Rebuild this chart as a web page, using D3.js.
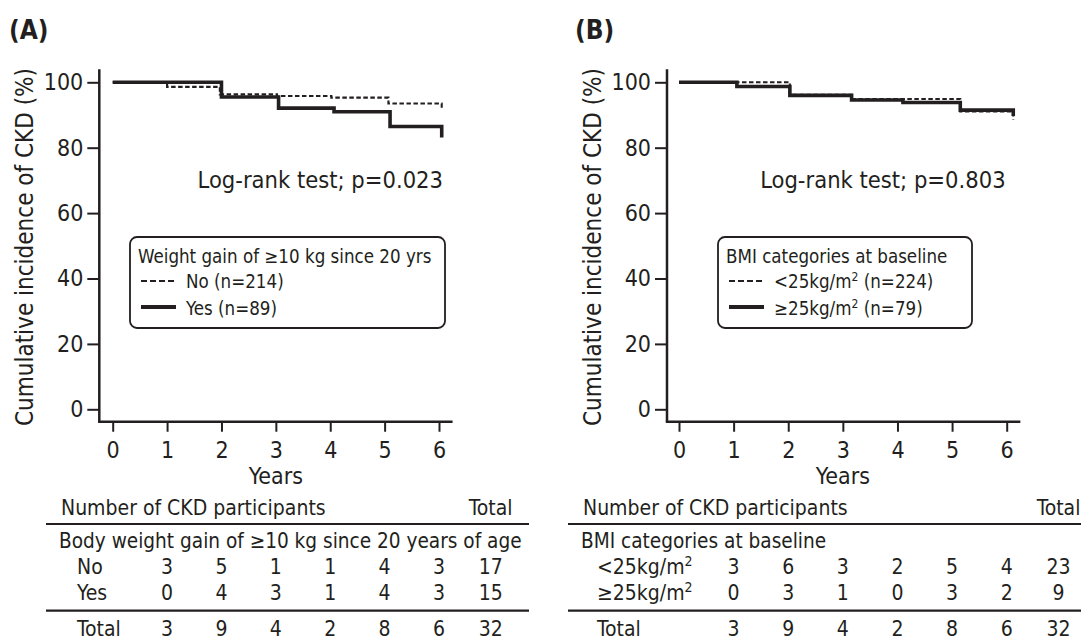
<!DOCTYPE html>
<html>
<head>
<meta charset="utf-8">
<title>Cumulative incidence of CKD</title>
<script src="https://cdn.jsdelivr.net/npm/d3@7"></script>
<style>
  body { margin: 0; background: #fff; }
  svg text { font-family: "DejaVu Sans Condensed", "DejaVu Sans", sans-serif; fill: #231f20; }
</style>
</head>
<body>
<svg id="chart" width="1081" height="641"></svg>
<script>
// ---- data ----
const years = [0, 1, 2, 3, 4, 5, 6]
const yTicks = [0, 20, 40, 60, 80, 100]

// Panel A: weight gain of >=10 kg since 20 yrs
const aNoTimes = [0, 1.0, 1.97, 3.02, 4.02, 5.07, 6.05]
const aNoValues = [100, 98.6, 96.3, 95.8, 95.3, 93.5, 92.1]
const aYesTimes = [0, 2.0, 3.05, 4.07, 5.1, 6.05]
const aYesValues = [100, 95.5, 92.1, 91.0, 86.5, 83.1]

// Panel B: BMI categories (as drawn: dashed and solid)
const bDashTimes = [0, 2.03, 3.16, 5.15, 6.12]
const bDashValues = [100, 96.2, 94.9, 91.1, 88.6]
const bSolidTimes = [0, 1.06, 2.03, 3.16, 4.1, 5.15, 6.12]
const bSolidValues = [100, 98.7, 96.0, 94.6, 93.8, 91.5, 89.7]

// Number-at-event tables
const aRows = ["No", "Yes"]
const aNoCounts = [3, 5, 1, 1, 4, 3]
const aYesCounts = [0, 4, 3, 1, 4, 3]
const aTotals = [17, 15]
const aColTotals = [3, 9, 4, 2, 8, 6]
const aGrandTotal = 32

const bLtCounts = [3, 6, 3, 2, 5, 4]
const bGeCounts = [0, 3, 1, 0, 3, 2]
const bTotals = [23, 9]
const bColTotals = [3, 9, 4, 2, 8, 6]
const bGrandTotal = 32

const svg = d3.select("#chart")
const ink = "#231f20"

const y = d3.scaleLinear().domain([0, 100]).range([409.3, 82.3])

function drawPanel(p) {
    const g = svg.append("g")
    const x = d3.scaleLinear().domain([0, 6]).range(p.xRange)

    // panel letter
    g.append("text").attr("x", p.letterX).attr("y", 39)
        .attr("font-size", 26).attr("font-weight", "bold").text(p.letter)

    // y axis
    const yAxis = g.append("g").attr("transform", `translate(${p.axisX},0)`)
        .call(d3.axisLeft(y).tickValues(yTicks).tickSize(12).tickPadding(4).tickSizeOuter(0))
    yAxis.select(".domain").remove()
    yAxis.selectAll("line").attr("stroke", ink).attr("stroke-width", 2)
    yAxis.selectAll("text").attr("font-size", 23)
    yAxis.attr("font-family", null)
    g.append("line").attr("x1", p.axisX).attr("x2", p.axisX)
        .attr("y1", y(104)).attr("y2", y(-3.8))
        .attr("stroke", ink).attr("stroke-width", 2.5)

    // x axis
    const xAxis = g.append("g").attr("transform", `translate(0,${y(-3.8)})`)
        .call(d3.axisBottom(x).tickValues(years).tickFormat(d3.format("d"))
            .tickSize(10).tickPadding(10).tickSizeOuter(0))
    xAxis.select(".domain").remove()
    xAxis.selectAll("line").attr("stroke", ink).attr("stroke-width", 2)
    xAxis.selectAll("text").attr("font-size", 23)
    xAxis.attr("font-family", null)
    g.append("line").attr("x1", p.axisX - 1.2).attr("x2", x(6.25))
        .attr("y1", y(-3.8)).attr("y2", y(-3.8))
        .attr("stroke", ink).attr("stroke-width", 2.5)

    // axis titles
    g.append("text").attr("x", x(3)).attr("y", 484)
        .attr("text-anchor", "middle").attr("font-size", 23).text("Years")
    g.append("text")
        .attr("transform", `translate(${p.yLabelX},247) rotate(-90)`)
        .attr("text-anchor", "middle").attr("font-size", 24)
        .text("Cumulative incidence of CKD (%)")

    // curves
    const line = d3.line().x(d => x(d[0])).y(d => y(d[1])).curve(d3.curveStepAfter)
    g.append("path").attr("d", line(d3.zip(p.solidT, p.solidV)))
        .attr("fill", "none").attr("stroke", ink).attr("stroke-width", 3.6)
    g.append("path").attr("d", line(d3.zip(p.dashT, p.dashV)))
        .attr("fill", "none").attr("stroke", ink).attr("stroke-width", 2.1)
        .attr("stroke-dasharray", "4.5,2.5")

    // log-rank
    g.append("text").attr("x", p.logRight).attr("y", 188)
        .attr("text-anchor", "end").attr("font-size", 23.5).text(p.logText)

    // legend
    const lg = g.append("g").attr("transform", `translate(${p.legendX},237)`)
    lg.append("rect").attr("width", p.legendW).attr("height", 91).attr("rx", 7)
        .attr("fill", "#fff").attr("stroke", ink).attr("stroke-width", 1.8)
    lg.append("text").attr("x", 8).attr("y", 26).attr("font-size", 18.6).text(p.legendTitle)
    lg.append("line").attr("x1", 11).attr("x2", 46).attr("y1", 44).attr("y2", 44)
        .attr("stroke", ink).attr("stroke-width", 2).attr("stroke-dasharray", "6,3")
    lg.append("line").attr("x1", 11).attr("x2", 46).attr("y1", 70).attr("y2", 70)
        .attr("stroke", ink).attr("stroke-width", 4)
    p.legendItems.forEach((item, i) => {
        const t = lg.append("text").attr("x", 56).attr("y", 51 + i * 27).attr("font-size", 18.6)
        item.forEach(part => {
            const ts = t.append("tspan").text(part.s)
            if (part.sup) ts.attr("font-size", 12).attr("baseline-shift", "super")
        })
    })

    // table
    const tg = g.append("g").attr("font-size", 21)
    tg.append("text").attr("x", p.tableLeft + 15).attr("y", 515).text("Number of CKD participants")
    tg.append("text").attr("x", x(6.95)).attr("y", 515).attr("text-anchor", "middle").text("Total")
    ;[524, 610.7].forEach(yy => {
        tg.append("line").attr("x1", p.tableLeft).attr("x2", p.tableRight)
            .attr("y1", yy).attr("y2", yy).attr("stroke", ink).attr("stroke-width", 2.2)
    })
    tg.append("text").attr("x", p.tableLeft + 13).attr("y", 548)
        .attr("font-size", 20.6).text(p.groupTitle)

    const rowY = [574, 600]
    p.rowLabels.forEach((lab, r) => {
        const t = tg.append("text").attr("x", p.rowLabelX).attr("y", rowY[r])
        lab.forEach(part => {
            const ts = t.append("tspan").text(part.s)
            if (part.sup) ts.attr("font-size", 14).attr("baseline-shift", "super")
        })
        p.rows[r].forEach((v, i) => {
            tg.append("text").attr("x", x(i + 1)).attr("y", rowY[r])
                .attr("text-anchor", "middle").text(v)
        })
        tg.append("text").attr("x", x(6.95)).attr("y", rowY[r])
            .attr("text-anchor", "middle").text(p.rowTotals[r])
    })
    tg.append("text").attr("x", p.rowLabelX).attr("y", 636).text("Total")
    p.colTotals.forEach((v, i) => {
        tg.append("text").attr("x", x(i + 1)).attr("y", 636)
            .attr("text-anchor", "middle").text(v)
    })
    tg.append("text").attr("x", x(6.95)).attr("y", 636)
        .attr("text-anchor", "middle").text(p.grandTotal)
}

drawPanel({
    letter: "(A)", letterX: 9,
    xRange: [112.7, 439], axisX: 99.3, yLabelX: 33,
    solidT: aYesTimes, solidV: aYesValues, dashT: aNoTimes, dashV: aNoValues,
    logText: "Log-rank test; p=0.023", logRight: 443,
    legendX: 130, legendW: 315,
    legendTitle: "Weight gain of \u226510 kg since 20 yrs",
    legendItems: [[{ s: "No (n=214)" }], [{ s: "Yes (n=89)" }]],
    tableLeft: 46, tableRight: 529,
    groupTitle: "Body weight gain of \u226510 kg since 20 years of age",
    rowLabelX: 77,
    rowLabels: [[{ s: aRows[0] }], [{ s: aRows[1] }]],
    rows: [aNoCounts, aYesCounts], rowTotals: aTotals,
    colTotals: aColTotals, grandTotal: aGrandTotal
})

drawPanel({
    letter: "(B)", letterX: 575,
    xRange: [679, 1006.7], axisX: 667, yLabelX: 601,
    solidT: bSolidTimes, solidV: bSolidValues, dashT: bDashTimes, dashV: bDashValues,
    logText: "Log-rank test; p=0.803", logRight: 1005.6,
    legendX: 718, legendW: 254,
    legendTitle: "BMI categories at baseline",
    legendItems: [
        [{ s: "<25kg/m" }, { s: "2", sup: true }, { s: " (n=224)" }],
        [{ s: "\u226525kg/m" }, { s: "2", sup: true }, { s: " (n=79)" }]
    ],
    tableLeft: 568, tableRight: 1081,
    groupTitle: "BMI categories at baseline",
    rowLabelX: 597,
    rowLabels: [
        [{ s: "<25kg/m" }, { s: "2", sup: true }],
        [{ s: "\u226525kg/m" }, { s: "2", sup: true }]
    ],
    rows: [bLtCounts, bGeCounts], rowTotals: bTotals,
    colTotals: bColTotals, grandTotal: bGrandTotal
})
</script>
</body>
</html>
